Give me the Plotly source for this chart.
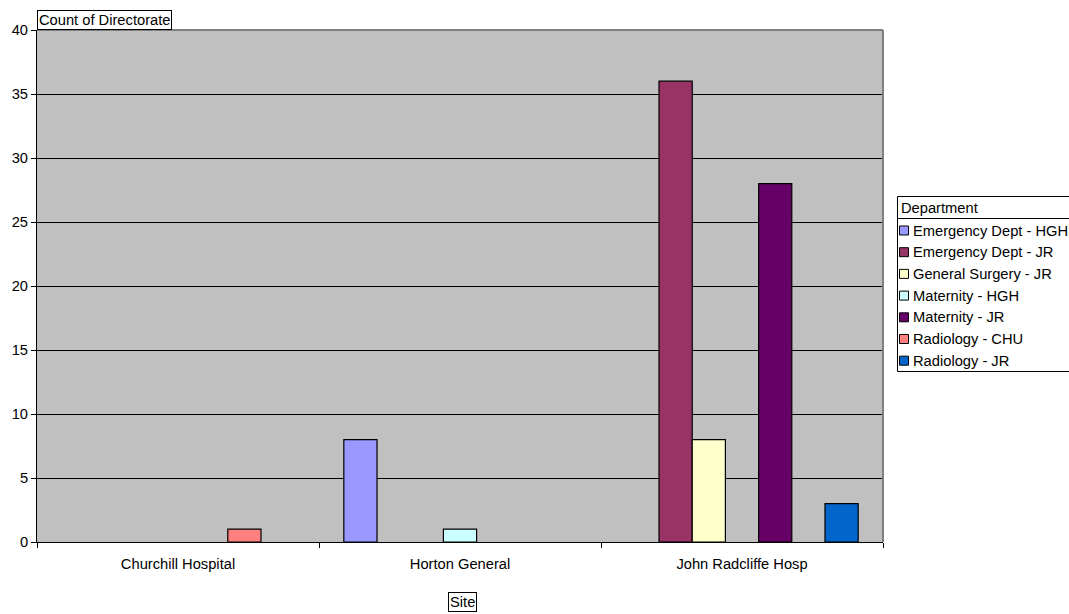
import plotly.graph_objects as go

sites = ["Churchill Hospital", "Horton General", "John Radcliffe Hosp"]
departments = [
    "Emergency Dept - HGH",
    "Emergency Dept - JR",
    "General Surgery - JR",
    "Maternity - HGH",
    "Maternity - JR",
    "Radiology - CHU",
    "Radiology - JR",
]
counts = [
    [None, 8, None],
    [None, None, 36],
    [None, None, 8],
    [None, 1, None],
    [None, None, 28],
    [1, None, None],
    [None, None, 3],
]
colors = ["#9999FF", "#993366", "#FFFFCC", "#CCFFFF", "#660066", "#FF8080", "#0066CC"]
y_ticks = [0, 5, 10, 15, 20, 25, 30, 35, 40]

FS = 14.7
fig = go.Figure()
for dep, vals, col in zip(departments, counts, colors):
    fig.add_trace(go.Bar(
        name=dep, x=sites, y=vals,
        marker=dict(color=col, line=dict(color="black", width=1.2)),
        showlegend=False,
    ))

W, H = 1069, 614
L, R, T, B = 37, 186, 30, 72
pw, ph = W - L - R, H - T - B

def px_x(x):
    return (x - L) / pw

def px_y(y):
    return (H - B - y) / ph

shapes = [
    dict(type="line", xref="paper", yref="paper", x0=0, x1=1, y0=1, y1=1,
         line=dict(color="#808080", width=2)),
    dict(type="line", xref="paper", yref="paper", x0=1, x1=1, y0=0, y1=1,
         line=dict(color="#808080", width=2)),
    # legend box
    dict(type="rect", xref="paper", yref="paper", x0=px_x(897.5), x1=px_x(1075),
         y0=px_y(371.5), y1=px_y(196.5), line=dict(color="black", width=1),
         fillcolor="white", layer="above"),
    dict(type="line", xref="paper", yref="paper", x0=px_x(897.5), x1=px_x(1075),
         y0=px_y(218.5), y1=px_y(218.5), line=dict(color="black", width=1)),
]
annotations = [
    dict(text="Count of Directorate", xref="paper", yref="paper",
         x=px_x(37), y=px_y(10), xanchor="left", yanchor="top",
         showarrow=False, bordercolor="black", borderwidth=1, borderpad=1,
         bgcolor="white", font=dict(size=FS)),
    dict(text="Site", xref="paper", yref="paper",
         x=px_x(462), y=px_y(592), xanchor="center", yanchor="top",
         showarrow=False, bordercolor="black", borderwidth=1, borderpad=1,
         bgcolor="white", font=dict(size=FS)),
    dict(text="Department", xref="paper", yref="paper",
         x=px_x(899), y=px_y(207.5), xanchor="left", yanchor="middle",
         showarrow=False, font=dict(size=FS)),
]
for i, (dep, col) in enumerate(zip(departments, colors)):
    cy = 230.5 + 21.7 * i
    shapes.append(dict(type="rect", xref="paper", yref="paper",
                       x0=px_x(899.5), x1=px_x(908.5),
                       y0=px_y(cy + 4.5), y1=px_y(cy - 4.5),
                       line=dict(color="black", width=1), fillcolor=col,
                       layer="above"))
    annotations.append(dict(text=dep, xref="paper", yref="paper",
                            x=px_x(911), y=px_y(cy), xanchor="left",
                            yanchor="middle", showarrow=False,
                            font=dict(size=FS)))

fig.update_layout(
    width=W, height=H,
    margin=dict(l=L, r=R, t=T, b=B, autoexpand=False),
    paper_bgcolor="white",
    plot_bgcolor="#C0C0C0",
    font=dict(family="Liberation Sans, Arial", size=FS, color="black"),
    barmode="group",
    bargap=0.176,
    bargroupgap=0,
    showlegend=False,
    xaxis=dict(
        tickson="boundaries", ticks="outside", ticklen=5, tickcolor="black",
        showline=True, linecolor="black", linewidth=1,
        showgrid=False, tickfont=dict(size=FS), ticklabelstandoff=8,
    ),
    yaxis=dict(
        range=[0, 40], tickvals=y_ticks, ticks="outside", ticklen=5,
        tickcolor="black", showline=True, linecolor="black", linewidth=1,
        showgrid=True, gridcolor="black", gridwidth=1, zeroline=False,
        tickfont=dict(size=FS),
    ),
    shapes=shapes,
    annotations=annotations,
)

fig.write_html("out.html")
